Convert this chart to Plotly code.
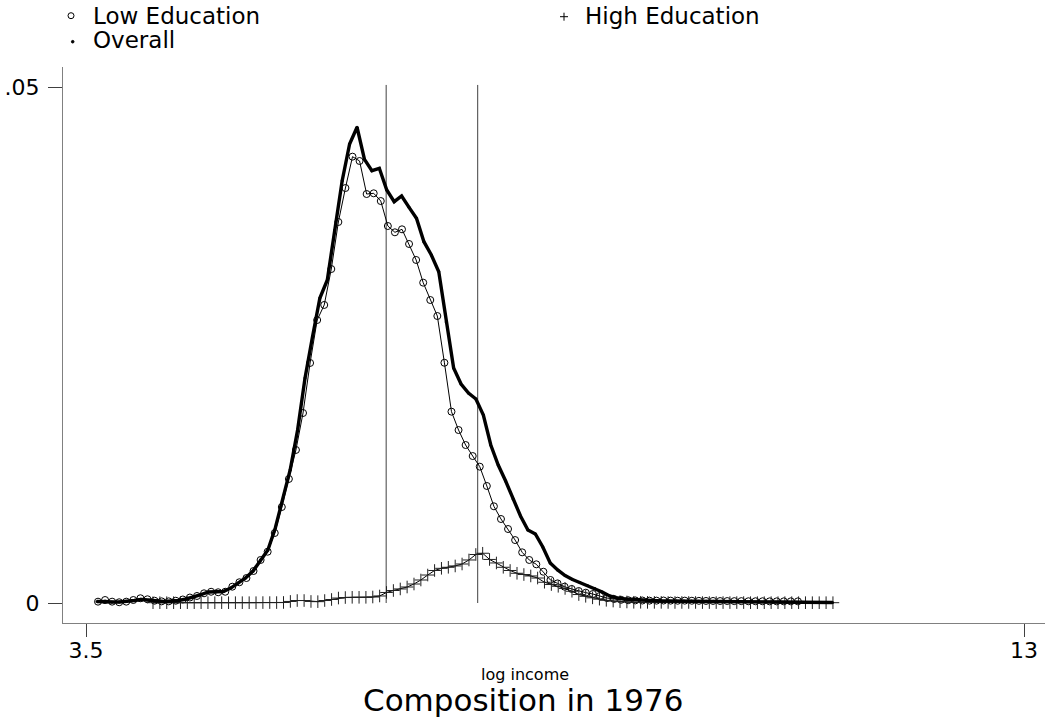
import numpy as np
import plotly.graph_objects as go

# ---------------- data ----------------
# evaluation grids (start, end, number of points) for each density estimate
low_grid = (3.6215, 10.710, 100)
overall_grid = (3.6114, 11.061, 100)
high_grid = (4.1786, 11.065, 100)

low_education = [
    0.00013, 0.00029, 0.00013, 0.00007, 0.00013, 0.00029, 0.00046, 0.00036, 0.00022, 0.00016,
    0.00016, 0.00022, 0.00034, 0.00053, 0.00068, 0.00094, 0.00109, 0.00104, 0.00109, 0.00158,
    0.00201, 0.00242, 0.00310, 0.00417, 0.00497, 0.00678, 0.00930, 0.01202, 0.01483, 0.01841,
    0.02326, 0.02742, 0.02888, 0.03236, 0.03692, 0.04021, 0.04325, 0.04283, 0.03963, 0.03970,
    0.03895, 0.03653, 0.03592, 0.03621, 0.03479, 0.03324, 0.03104, 0.02936, 0.02781, 0.02328,
    0.01854, 0.01676, 0.01531, 0.01424, 0.01321, 0.01134, 0.00937, 0.00814, 0.00717, 0.00610,
    0.00491, 0.00417, 0.00375, 0.00303, 0.00223, 0.00190, 0.00158, 0.00136, 0.00116, 0.00100,
    0.00087, 0.00068, 0.00048, 0.00039, 0.00031, 0.00027, 0.00025, 0.00024, 0.00023, 0.00023,
    0.00024, 0.00023, 0.00022, 0.00023, 0.00022, 0.00021, 0.00020, 0.00020, 0.00019, 0.00019,
    0.00018, 0.00018, 0.00017, 0.00017, 0.00017, 0.00016, 0.00016, 0.00016, 0.00016, 0.00016,
]

overall = [
    0.00015, 0.00010, 0.00010, 0.00010, 0.00015, 0.00024, 0.00034, 0.00029, 0.00019, 0.00015,
    0.00019, 0.00024, 0.00039, 0.00058, 0.00082, 0.00107, 0.00107, 0.00111, 0.00145, 0.00194,
    0.00242, 0.00310, 0.00417, 0.00514, 0.00727, 0.00998, 0.01289, 0.01676, 0.02180, 0.02578,
    0.02955, 0.03130, 0.03614, 0.04092, 0.04448, 0.04610, 0.04299, 0.04189, 0.04212, 0.04002,
    0.03889, 0.03944, 0.03834, 0.03728, 0.03501, 0.03372, 0.03210, 0.02723, 0.02277, 0.02122,
    0.02035, 0.01977, 0.01822, 0.01531, 0.01337, 0.01182, 0.01008, 0.00843, 0.00707, 0.00669,
    0.00543, 0.00388, 0.00320, 0.00266, 0.00228, 0.00199, 0.00170, 0.00141, 0.00107, 0.00068,
    0.00048, 0.00039, 0.00034, 0.00031, 0.00029, 0.00024, 0.00019, 0.00019, 0.00019, 0.00019,
    0.00019, 0.00018, 0.00018, 0.00017, 0.00017, 0.00016, 0.00015, 0.00014, 0.00013, 0.00012,
    0.00011, 0.00010, 0.00009, 0.00008, 0.00008, 0.00007, 0.00006, 0.00006, 0.00005, 0.00005,
]

high_education = [
    0.00003, 0.00003, 0.00003, 0.00003, 0.00003, 0.00003, 0.00003, 0.00003, 0.00003, 0.00003,
    0.00003, 0.00003, 0.00003, 0.00003, 0.00003, 0.00003, 0.00004, 0.00004, 0.00004, 0.00005,
    0.00015, 0.00024, 0.00024, 0.00015, 0.00013, 0.00024, 0.00034, 0.00048, 0.00053, 0.00055,
    0.00055, 0.00055, 0.00058, 0.00068, 0.00102, 0.00121, 0.00136, 0.00155, 0.00184, 0.00223,
    0.00271, 0.00315, 0.00336, 0.00346, 0.00359, 0.00378, 0.00417, 0.00470, 0.00482, 0.00422,
    0.00388, 0.00346, 0.00315, 0.00288, 0.00276, 0.00262, 0.00242, 0.00201, 0.00179, 0.00162,
    0.00141, 0.00114, 0.00082, 0.00065, 0.00050, 0.00037, 0.00026, 0.00019, 0.00013, 0.00010,
    0.00007, 0.00007, 0.00006, 0.00006, 0.00006, 0.00005, 0.00005, 0.00005, 0.00005, 0.00005,
    0.00004, 0.00004, 0.00004, 0.00004, 0.00004, 0.00004, 0.00004, 0.00003, 0.00003, 0.00003,
    0.00003, 0.00003, 0.00003, 0.00003, 0.00003, 0.00003, 0.00003, 0.00003, 0.00003, 0.00003,
]

# reference lines (x position) and their top
vline_x = [6.54, 7.467]
vline_top = 0.0502

x_ticks = [3.5, 13]
x_ticklabels = ["3.5", "13"]
y_ticks = [0, 0.05]
y_ticklabels = ["0", ".05"]

series_names = ["Low Education", "High Education", "Overall"]
x_title = "log income"
chart_title = "Composition in 1976"

# ---------------- layout geometry ----------------
W, H = 1045, 719
ML, MR, MT, MB = 63, 0, 67, 96
FONT = "DejaVu Sans"


def px_x(p):
    return (p - ML) / (W - ML - MR)


def px_y(p):
    return (H - MB - p) / (H - MT - MB)


x_low = np.linspace(*low_grid)
x_over = np.linspace(*overall_grid)
x_high = np.linspace(*high_grid)

fig = go.Figure()

fig.add_trace(go.Scatter(
    x=x_low, y=low_education, mode="lines+markers", name=series_names[0],
    line=dict(color="black", width=1),
    marker=dict(symbol="circle-open", size=7, color="black", line=dict(width=1, color="black")),
    showlegend=False,
))
fig.add_trace(go.Scatter(
    x=x_high, y=high_education, mode="lines+markers", name=series_names[1],
    line=dict(color="black", width=1),
    marker=dict(symbol="cross-thin", size=9, color="black", line=dict(width=1, color="#202020")),
    showlegend=False,
))
fig.add_trace(go.Scatter(
    x=x_over, y=overall, mode="lines+markers", name=series_names[2],
    line=dict(color="black", width=3.4),
    marker=dict(symbol="circle", size=3, color="black"),
    showlegend=False,
))

shapes = []
for xv in vline_x:
    shapes.append(dict(type="line", xref="x", yref="y", x0=xv, x1=xv, y0=0, y1=vline_top,
                       line=dict(color="#404040", width=1), layer="below"))


# legend symbols (pixel-sized shapes anchored in paper coordinates)
def circ_shape(cx, cy, r, filled):
    return dict(type="circle", xref="paper", yref="paper", xsizemode="pixel", ysizemode="pixel",
                xanchor=px_x(cx), yanchor=px_y(cy), x0=-r, x1=r, y0=-r, y1=r,
                line=dict(color="black", width=1),
                fillcolor="black" if filled else "rgba(0,0,0,0)")


shapes.append(circ_shape(71, 15.7, 3, False))
shapes.append(circ_shape(72.7, 41.7, 1.3, True))
for (dx0, dy0, dx1, dy1) in [(-4, 0, 4, 0), (0, -4, 0, 4)]:
    shapes.append(dict(type="line", xref="paper", yref="paper", xsizemode="pixel", ysizemode="pixel",
                       xanchor=px_x(564), yanchor=px_y(16.7), x0=dx0, x1=dx1, y0=dy0, y1=dy1,
                       line=dict(color="black", width=1)))

annotations = [
    dict(text=series_names[0], x=px_x(91), y=px_y(16), xref="paper", yref="paper",
         xanchor="left", yanchor="middle", showarrow=False, font=dict(family=FONT, size=23, color="black")),
    dict(text=series_names[1], x=px_x(583), y=px_y(16), xref="paper", yref="paper",
         xanchor="left", yanchor="middle", showarrow=False, font=dict(family=FONT, size=23, color="black")),
    dict(text=series_names[2], x=px_x(91), y=px_y(40), xref="paper", yref="paper",
         xanchor="left", yanchor="middle", showarrow=False, font=dict(family=FONT, size=23, color="black")),
    dict(text=x_title, x=px_x(525), y=px_y(674), xref="paper", yref="paper",
         xanchor="center", yanchor="middle", showarrow=False, font=dict(family=FONT, size=16, color="black")),
    dict(text=chart_title, x=px_x(523), y=px_y(700), xref="paper", yref="paper",
         xanchor="center", yanchor="middle", showarrow=False, font=dict(family=FONT, size=31, color="black")),
]

xr = [3.5 - 23 / 98.74, 13 + 21 / 98.74]
yscale = 516 / 0.05
yr = [-20 / yscale, 0.05 + 20 / yscale]

fig.update_layout(
    width=W, height=H, autosize=False,
    margin=dict(l=ML, r=MR, t=MT, b=MB, pad=0),
    paper_bgcolor="white", plot_bgcolor="white",
    showlegend=False,
    font=dict(family=FONT, size=22, color="black"),
    xaxis=dict(range=xr, tickvals=x_ticks, ticktext=x_ticklabels, ticks="outside", ticklen=13,
               tickwidth=1, tickcolor="#404040", showline=True, linecolor="#808080", linewidth=1,
               showgrid=False, zeroline=False, ticklabelstandoff=-5,
               tickfont=dict(family=FONT, size=22, color="black")),
    yaxis=dict(range=yr, tickvals=y_ticks, ticktext=y_ticklabels, ticks="outside", ticklen=14,
               tickwidth=1, tickcolor="#404040", showline=True, linecolor="#808080", linewidth=1,
               showgrid=False, zeroline=False, ticklabelstandoff=4,
               tickfont=dict(family=FONT, size=22, color="black")),
    shapes=shapes,
    annotations=annotations,
)

fig.write_html("out.html")
